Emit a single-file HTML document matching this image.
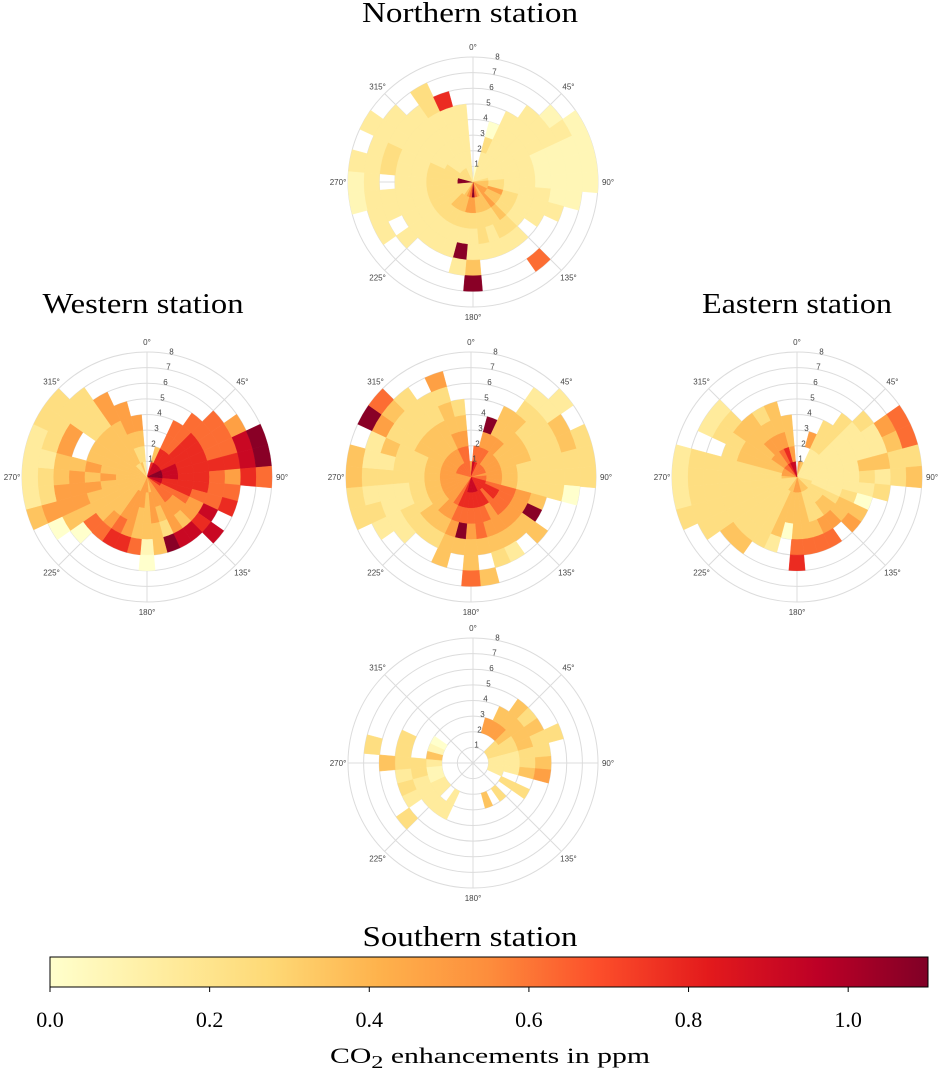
<!DOCTYPE html>
<html><head><meta charset="utf-8"><style>
body{margin:0;background:#fff;width:946px;height:1072px;overflow:hidden}
svg{display:block}
.ttl{font-family:"Liberation Serif",serif;font-size:28px;fill:#000}
.deg{font-family:"Liberation Sans",sans-serif;font-size:8px;fill:#444}
.cb{font-family:"Liberation Serif",serif;font-size:22px;fill:#000}
</style></head><body>
<svg id="chart" width="946" height="1072" viewBox="0 0 946 1072"></svg>
<script>
// angle bins (degrees, centred), radial bins 0-1..7-8, digit = colour level, '.' = empty
const angles = [0,10,20,30,40,50,60,70,80,90,100,110,120,130,140,150,160,170,180,190,200,210,220,230,240,250,260,270,280,290,300,310,320,330,340,350];
const northern = ["........","0.......","2230....","22222...","222222..","2222221.","22222221","22221111","32221111","43221111","4322211.","453222..","54322...","5432....","55432.6.","44332...","54322...","64332...","9532249.","653292..","54322...","44322...","34322...","333222..","33322.2.","3332222.","33322221","93322.21","93322322","3332232.","33222222","3222222.","322222..","3222233.","222227..","22222..."];
const western = ["........","........","74......","8766....","87666...","877766..","8777665.","98776689","98777789","98776576","877766..","877667..","76658...","665578..","66548...","55558...","55439...","45544...","544410..","55446...","55557...","45567...","44456...","444460..","4444440.","44445554","44455532","44545432","44454422","4444.532","4444.533","44443333","3444333.","344455..","43455...","2345...."];
const central = ["5.......","86......","7659....","66544...","6554432.","65443322","6544334.","65443343","55433333","65433333","6543330.","76654...","77659...","776544..","76654...","775542..","876543..","87664.4.","8765446.","87694...","776544..","66543...","55543...","554432..","5543322.","55432233","55432223","55433334","55433224","6543342.","65443359","65443346","6544333.","654433..","6654435.","66543..."];
const eastern = ["........","5.......","4.5.....","2233....","22333...","222223..","22222256","22222246","22224433","22223234","222223..","32230...","33344...","33445...","4345....","43356...","43346...","54446...","544467..","5440....","44442...","43333...","333334..","333334..","3333333.","33333333","33333332","43333332","53333332","54443...","5444332.","6544432.","65544...","76543...","87544...","8544...."];
const southern = ["........","........","..5.....","..54....","..544...",".3443...",".3344...",".33433..",".2233...",".2234...",".2245...",".2......","..33....","........","..3.....","........","..4.....","........","........","........","........","..22....","...2....","..22.3..","..222...","..123...","..132...","..2334..","..4.3.3.","..1.3...","..0.....","........","........","........","........","........"];
const cbTicks = ["0.0","0.2","0.4","0.6","0.8","1.0"];
const cbTickValues = [0,0.2,0.4,0.6,0.8,1.0];
const levelValue = [0,0.07,0.15,0.24,0.35,0.48,0.62,0.78,0.92,1.08];

const NS="http://www.w3.org/2000/svg";
const svg=document.getElementById('chart');
const stops=["#ffffcc","#ffeda0","#fed976","#feb24c","#fd8d3c","#fc4e2a","#e31a1c","#bd0026","#800026"];
function hex(h){return [1,3,5].map(i=>parseInt(h.substr(i,2),16));}
function cmap(v){let t=Math.max(0,Math.min(1,v/1.1))*8;let i=Math.min(7,Math.floor(t));let f=t-i;let a=hex(stops[i]),b=hex(stops[i+1]);return 'rgb('+a.map((x,k)=>Math.round(x+(b[k]-x)*f)).join(',')+')';}
function el(tag,attrs,parent){const e=document.createElementNS(NS,tag);for(const k in attrs)e.setAttribute(k,attrs[k]);(parent||svg).appendChild(e);return e;}
const R=125, VMAX=8;
function rs(v){return v/VMAX*R;}
function pt(cx,cy,r,deg){const a=deg*Math.PI/180;return [cx+r*Math.sin(a),cy-r*Math.cos(a)];}

function drawRose(cx,cy,data,name){
  const g=el('g',{});
  
  
  for(let v=1;v<=VMAX;v++){const c=el('circle',{cx:cx,cy:cy,r:rs(v),fill:'none',stroke:'#dcdcdc','stroke-width':1},g);
    
    }
  for(let d=0;d<360;d+=45){const p=pt(cx,cy,R,d);const l=el('line',{x1:cx,y1:cy,x2:p[0],y2:p[1],stroke:'#dcdcdc','stroke-width':1},g);
    
    }
  data.forEach((s,i)=>{
    const a=angles[i];
    for(let j=0;j<s.length;j++){
      const ch=s[j]; if(ch==='.') continue;
      const val=levelValue[+ch];
      const r0=rs(j), r1=rs(j+1), a0=a-5, a1=a+5;
      const p1=pt(cx,cy,r0,a0),p2=pt(cx,cy,r1,a0),p3=pt(cx,cy,r1,a1),p4=pt(cx,cy,r0,a1);
      const d='M'+p1+'L'+p2+'A'+r1+','+r1+' 0 0 1 '+p3+'L'+p4+(r0>0?'A'+r0+','+r0+' 0 0 0 '+p1:'')+'Z';
      const c=el('path',{d:d,fill:cmap(val),stroke:cmap(val),'stroke-width':0.4},g);
      
      
    }
  });
  for(let d=0;d<360;d+=45){const p=pt(cx,cy,R+10,d);const t=el('text',{x:p[0],y:p[1]+3,'text-anchor':'middle',class:'deg'},g);t.textContent=d+'°';
    
    }
  for(let v=1;v<=VMAX;v++){const p=pt(cx,cy,rs(v)+3,11);const t=el('text',{x:p[0],y:p[1]+3,'text-anchor':'middle',class:'deg'},g);t.textContent=v;
    
    }
}
drawRose(473,182,northern,'northern-rose');
drawRose(147,477,western,'western-rose');
drawRose(471,477,central,'central-rose');
drawRose(797,477,eastern,'eastern-rose');
drawRose(473,763,southern,'southern-rose');

function title(x,y,txt,w,name){const t=el('text',{x:x,y:y,'text-anchor':'middle',class:'ttl',textLength:w,lengthAdjust:'spacingAndGlyphs'});t.textContent=txt;
  
  }
title(470,22,'Northern station',216,'northern-title');
title(143,313,'Western station',201,'western-title');
title(797,313,'Eastern station',190,'eastern-title');
title(470,946,'Southern station',215,'southern-title');

// colorbar
const X0=50,X1=928,Y0=957,H=30;
const defs=el('defs',{});const lg=el('linearGradient',{id:'cbg',x1:0,x2:1,y1:0,y2:0},defs);
stops.forEach((c,i)=>el('stop',{offset:(i/8*100)+'%','stop-color':c},lg));
const bar=el('rect',{x:X0,y:Y0,width:X1-X0,height:H,fill:'url(#cbg)',stroke:'#000','stroke-width':1});


function cx(v){return X0+v/1.1*(X1-X0);}
cbTickValues.forEach((v,i)=>{
  const l=el('line',{x1:cx(v),x2:cx(v),y1:Y0+H,y2:Y0+H+5,stroke:'#000'});
  
  
  const t=el('text',{x:cx(v),y:1027,'text-anchor':'middle',class:'cb','font-size':'23'});t.textContent=cbTicks[i];
  
  
});
const lab=el('text',{x:330,y:1063,class:'cb','font-size':'28',textLength:320,lengthAdjust:'spacingAndGlyphs'});
lab.innerHTML='CO<tspan font-size="18" dy="5">2</tspan><tspan dy="-5"> enhancements in ppm</tspan>';


</script>
</body></html>
